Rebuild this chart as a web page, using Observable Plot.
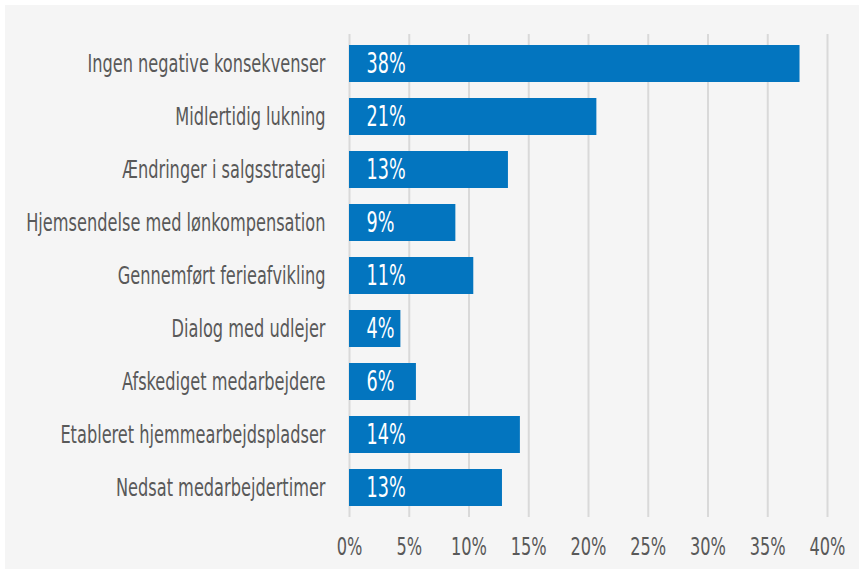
<!DOCTYPE html>
<html>
<head>
<meta charset="utf-8">
<script src="https://cdn.jsdelivr.net/npm/d3@7"></script>
<script src="https://cdn.jsdelivr.net/npm/@observablehq/plot@0.6"></script>
<style>
  body { margin: 0; background: #ffffff; }
  #chart svg { display: block; }
</style>
</head>
<body>
<div id="chart"></div>
<script>
const categories = [
  "Ingen negative konsekvenser",
  "Midlertidig lukning",
  "Ændringer i salgsstrategi",
  "Hjemsendelse med lønkompensation",
  "Gennemført ferieafvikling",
  "Dialog med udlejer",
  "Afskediget medarbejdere",
  "Etableret hjemmearbejdspladser",
  "Nedsat medarbejdertimer"
];
const values = [37.7, 20.7, 13.3, 8.9, 10.4, 4.3, 5.6, 14.3, 12.8];
const labels = ["38%", "21%", "13%", "9%", "11%", "4%", "6%", "14%", "13%"];
const xTicks = [0, 5, 10, 15, 20, 25, 30, 35, 40];

const data = categories.map((c, i) => ({category: c, value: values[i], label: labels[i]}));
const FONT = "'DejaVu Sans Condensed', 'DejaVu Sans', sans-serif";

const chart = Plot.plot({
  width: 864,
  height: 574,
  marginLeft: 349,
  marginRight: 37,
  marginTop: 34,
  marginBottom: 57,
  style: {
    background: "#f5f5f5",
    fontFamily: FONT,
    fontSize: "25px",
    color: "#595959",
    outline: "5px solid #ffffff",
    outlineOffset: "-5px"
  },
  x: {domain: [0, 40], ticks: xTicks, tickFormat: d => d + "%", tickSize: 0, tickPadding: 20, label: null},
  y: {domain: categories, paddingInner: 0.3, paddingOuter: 0.15, tickSize: 0, tickPadding: 24, label: null},
  marks: [
    Plot.gridX(xTicks, {stroke: "#d9d9d9", strokeWidth: 2, strokeOpacity: 1}),
    Plot.barX(data, {x: "value", y: "category", fill: "#0375BF"}),
    Plot.text(data, {x: 0, y: "category", text: "label", textAnchor: "start", dx: 17, fill: "#ffffff", fontSize: 28})
  ]
});

// Horizontally condense texts to mimic the narrow typeface of the reference
function condense(sel, s) {
  chart.querySelectorAll(sel).forEach(t => {
    const x = (parseFloat(t.getAttribute("x")) || 0) + (parseFloat(t.getAttribute("dx")) || 0);
    const tr = t.getAttribute("transform") || "";
    t.setAttribute("transform", `${tr} translate(${x},0) scale(${s},1) translate(${-x},0)`);
  });
}
condense('g[aria-label="y-axis tick label"] text', 0.72);
condense('g[aria-label="x-axis tick label"] text', 0.72);
condense('g[aria-label="text"] text', 0.7);

document.getElementById("chart").appendChild(chart);
</script>
</body>
</html>
